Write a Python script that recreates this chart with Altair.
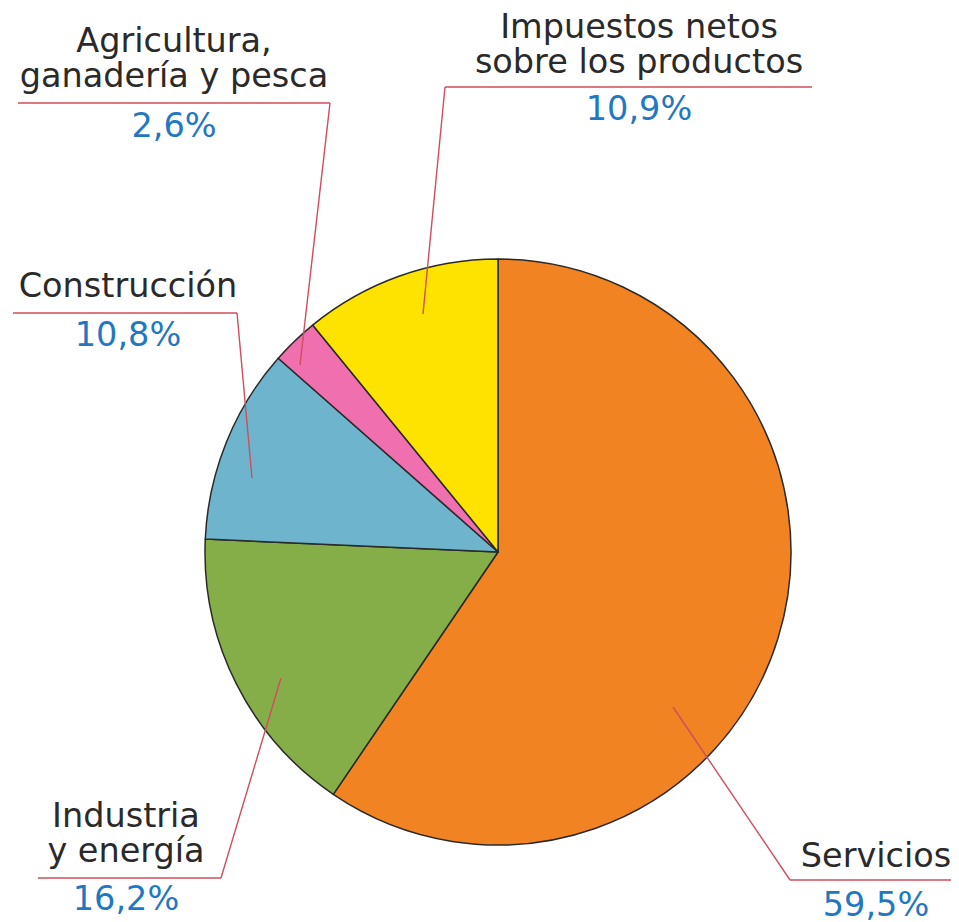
import altair as alt
import pandas as pd

# ---- data ----
categories = ["Servicios", "Industria y energía", "Construcción",
              "Agricultura, ganadería y pesca", "Impuestos netos sobre los productos"]
values = [59.5, 16.2, 10.8, 2.6, 10.9]
label_lines = [["Servicios"], ["Industria", "y energía"], ["Construcción"],
               ["Agricultura,", "ganadería y pesca"], ["Impuestos netos", "sobre los productos"]]
colors = ["#F28322", "#86AE48", "#6DB4CC", "#EF6FAF", "#FFE300"]

pct_labels = [f"{v:.1f}".replace(".", ",") + "%" for v in values]

# ---- layout (page pixel coordinates) ----
OFF = 8
pie_cx, pie_cy, pie_r = 498, 552, 293
# label center x, first-line baseline y, percent baseline y
label_x = [876, 126, 128, 174, 639]
label_y0 = [867, 827, 297, 52, 38]
pct_y = [916, 910, 346, 137, 120]
line_h = 35
# underline: x start, x end, y ; leader: end point inside slice, knee on underline
ul_x1 = [790, 38, 13, 18, 445]
ul_x2 = [959, 221, 237, 330, 812]
ul_y = [880, 878, 313, 103, 87]
knee_x = [790, 221, 237, 330, 445]
tip_x = [673, 281, 252, 300, 423]
tip_y = [707, 678, 478, 365, 314]

pie_df = pd.DataFrame({"cat": categories, "value": values, "order": list(range(len(values)))})

name_rows, pct_rows = [], []
for i, lines in enumerate(label_lines):
    for j, t in enumerate(lines):
        name_rows.append({"t": t, "x": label_x[i] - OFF, "y": label_y0[i] + j * line_h - OFF})
    pct_rows.append({"t": pct_labels[i], "x": label_x[i] - OFF, "y": pct_y[i] - OFF})
name_df = pd.DataFrame(name_rows)
pct_df = pd.DataFrame(pct_rows)

seg_rows = []
for i in range(len(categories)):
    seg_rows.append({"x": ul_x1[i] - OFF, "y": ul_y[i] - OFF, "x2": ul_x2[i] - OFF, "y2": ul_y[i] - OFF})
    seg_rows.append({"x": knee_x[i] - OFF, "y": ul_y[i] - OFF, "x2": tip_x[i] - OFF, "y2": tip_y[i] - OFF})
seg_df = pd.DataFrame(seg_rows)

pie = alt.Chart(pie_df).mark_arc(
    outerRadius=pie_r, stroke="#2a2a2a", strokeWidth=1.5, strokeJoin="round"
).encode(
    theta=alt.Theta("value:Q", stack=True),
    order=alt.Order("order:Q"),
    color=alt.Color("cat:N", scale=alt.Scale(domain=categories, range=colors), legend=None),
    x=alt.value(pie_cx - OFF),
    y=alt.value(pie_cy - OFF),
)

segs = alt.Chart(seg_df).mark_rule(color="#CF4D5C", strokeWidth=1.4).encode(
    x=alt.X("x:Q", scale=None), y=alt.Y("y:Q", scale=None),
    x2="x2:Q", y2="y2:Q",
)

names = alt.Chart(name_df).mark_text(
    font="DejaVu Sans", fontSize=33.5, align="center", baseline="alphabetic", color="#2a2a2a"
).encode(
    x=alt.X("x:Q", scale=None), y=alt.Y("y:Q", scale=None), text="t:N",
)

pcts = alt.Chart(pct_df).mark_text(
    font="DejaVu Sans", fontSize=33.5, align="center", baseline="alphabetic", color="#1F78C1"
).encode(
    x=alt.X("x:Q", scale=None), y=alt.Y("y:Q", scale=None), text="t:N",
)

chart = alt.layer(pie, segs, names, pcts).properties(
    width=943, height=914, padding=0, autosize=alt.AutoSizeParams(type="none"),
    background="white",
).configure_view(stroke=None)

chart.save("out.html", embed_options={"renderer": "svg", "actions": False})
